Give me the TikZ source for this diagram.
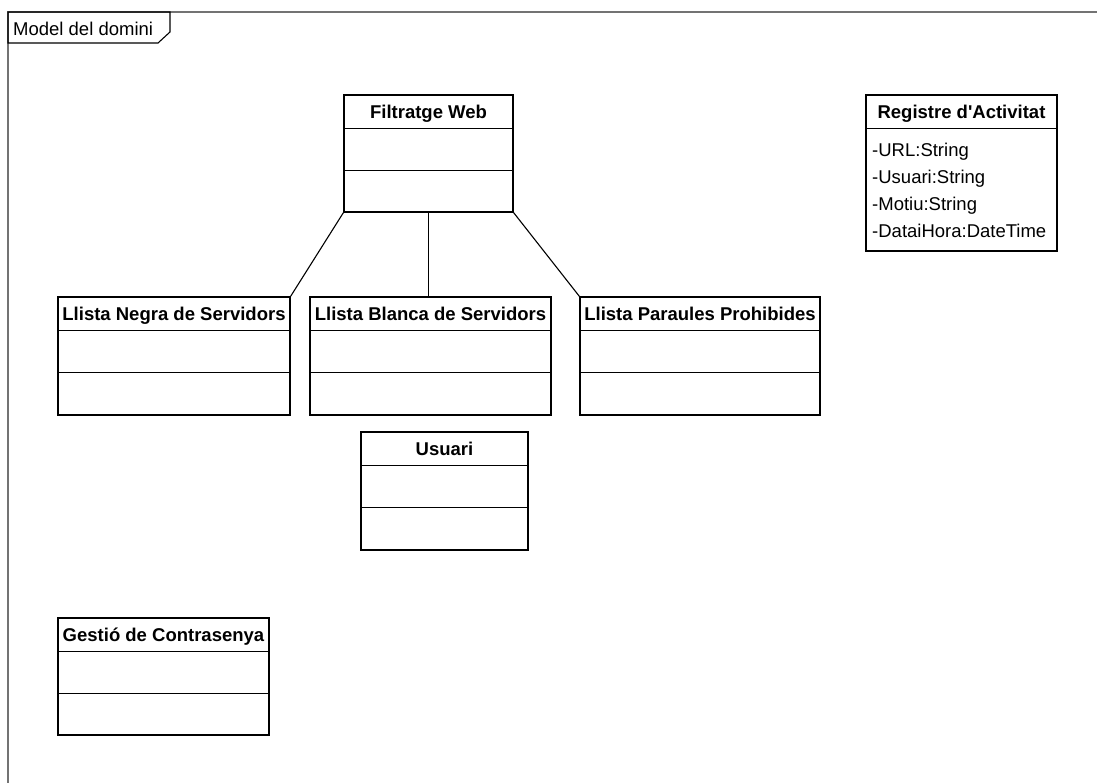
\documentclass[tikz,border=0pt]{standalone}
\usepackage{fontspec}
\setmainfont{Liberation Sans}

\tikzset{
  classbox/.style={draw, line width=1.1pt, inner sep=0pt},
  classtitle/.style={font=\fontsize{18.5}{22}\selectfont\bfseries, inner sep=0pt, text height=13.2pt, text depth=0pt},
  attr/.style={font=\fontsize{18.5}{22}\selectfont, inner sep=0pt, anchor=base west},
  assoc/.style={line width=1.1pt},
  framegray/.style={draw=black!55, line width=1.1pt}
}

% name, left, top, right, bottom, title
\newcommand{\umlclass}[6]{%
  \node[classbox, minimum width={(#4-#2)*1pt}, minimum height={(#5-#3)*1pt}] (#1) at ({(#2+#4)/2},{(#3+#5)/2}) {};
  \node[classtitle] (#1-title) at ({(#2+#4)/2},{#3+17}) {#6};
  \draw[line width=1.1pt] (#1.north west) ++(0,34) -- ++({#4-#2},0);
  \draw[line width=1.1pt] (#1.north west) ++(0,76) -- ++({#4-#2},0);
}

\begin{document}
\begin{tikzpicture}[x=1pt,y=-1pt]
\useasboundingbox (0,0) rectangle (1097,783);
% frame
\draw[framegray] (8,783) -- (8,12) -- (1097,12);
\draw[line width=1.1pt] (8,12) -- (170,12) -- (170,32) -- (158,43) -- (8,43) -- cycle;
\node[font=\fontsize{18.5}{22}\selectfont, inner sep=0pt, anchor=base west] (frame-label) at (13,36) {Model del domini};

% classes
\umlclass{fw}{344}{95}{513}{212}{Filtratge Web}
\umlclass{neg}{58}{297}{290}{415}{Llista Negra de Servidors}
\umlclass{bla}{310}{297}{551}{415}{Llista Blanca de Servidors}
\umlclass{par}{580}{297}{820}{415}{Llista Paraules Prohibides}
\umlclass{usu}{361}{432}{528}{550}{Usuari}
\umlclass{ges}{58}{618}{269}{735}{Gestió de Contrasenya}

% registre amb atributs
\node[classbox, minimum width=191pt, minimum height=156pt] (reg) at (961.5,173) {};
\node[classtitle] (reg-title) at (961.5,112) {Registre d\textquotesingle Activitat};
\draw[line width=1.1pt] (reg.north west) ++(0,34) -- ++(191,0);
\node[attr] (reg-a1) at (872,157) {-URL:String};
\node[attr] (reg-a2) at (872,184) {-Usuari:String};
\node[attr] (reg-a3) at (872,211) {-Motiu:String};
\node[attr] (reg-a4) at (872,238) {-DataiHora:DateTime};

% associacions
\draw[assoc] (fw.south west) -- (neg.north east);
\draw[assoc] (fw.south) -- (fw.south |- bla.north);
\draw[assoc] (fw.south east) -- (par.north west);
\end{tikzpicture}
\end{document}
